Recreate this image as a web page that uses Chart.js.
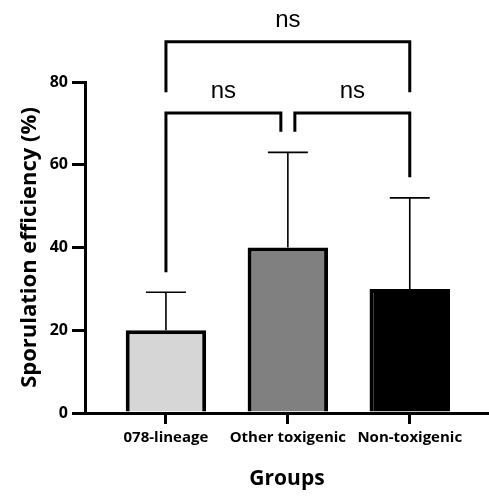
<html>

<head>
    <title>Sporulation efficiency</title>
    <style>
        html,
        body {
            margin: 0;
            padding: 0;
            background: #fff;
        }
    </style>
</head>

<body>
    <div style="width:489px; height:496px;">
        <canvas id='chart' width="489" height="496"></canvas>
    </div>

    <script src="https://cdn.jsdelivr.net/npm/chart.js@4.4.1/dist/chart.umd.min.js"></script>
    <script>
        // data
        const groups = ['078-lineage', 'Other toxigenic', 'Non-toxigenic']
        const means = [20, 40, 30]
        const errUp = [9.2, 23, 22]
        const yTicks = [0, 20, 40, 60, 80]

        // significance brackets: pair of groups, label, bar level, leg end levels
        const comparisons = [[0, 1], [1, 2], [0, 2]]
        const compLabels = ['ns', 'ns', 'ns']
        const bracketLevel = [72.5, 72.5, 89.7]
        const legEnds = [[34, 68], [68, 57], [77.5, 77.5]]

        const fills = ['#d6d6d6', '#808080', '#000000']
        const labelFont = 'Open Sans'

        const extras = {
            id: 'extras',
            afterDatasetsDraw(c) {
                const ctx = c.ctx
                const xs = c.scales.x, ys = c.scales.y
                ctx.save()
                ctx.strokeStyle = '#000'
                // upper error bars
                ctx.lineWidth = 1.6
                means.forEach((m, i) => {
                    const x = xs.getPixelForValue(i + 1)
                    const y0 = ys.getPixelForValue(m)
                    const y1 = ys.getPixelForValue(m + errUp[i])
                    ctx.beginPath()
                    ctx.moveTo(x, y0)
                    ctx.lineTo(x, y1)
                    ctx.moveTo(x - 20, y1)
                    ctx.lineTo(x + 20, y1)
                    ctx.stroke()
                })
                // brackets
                ctx.lineWidth = 3
                ctx.lineCap = 'butt'
                ctx.lineJoin = 'miter'
                ctx.fillStyle = '#000'
                ctx.font = '24px "Liberation Sans"'
                ctx.textAlign = 'center'
                ctx.textBaseline = 'alphabetic'
                comparisons.forEach((p, k) => {
                    let xa = xs.getPixelForValue(p[0] + 1)
                    let xb = xs.getPixelForValue(p[1] + 1)
                    // neighbouring brackets at the same level leave a small gap
                    comparisons.forEach((q, j) => {
                        if (j === k || bracketLevel[j] !== bracketLevel[k]) return
                        if (q[1] === p[0]) xa += 7
                        if (q[0] === p[1]) xb -= 7
                    })
                    const yb = ys.getPixelForValue(bracketLevel[k])
                    ctx.beginPath()
                    ctx.moveTo(xa, ys.getPixelForValue(legEnds[k][0]))
                    ctx.lineTo(xa, yb)
                    ctx.lineTo(xb, yb)
                    ctx.lineTo(xb, ys.getPixelForValue(legEnds[k][1]))
                    ctx.stroke()
                    ctx.fillText(compLabels[k], (xa + xb) / 2, yb - 15)
                })
                ctx.restore()
            }
        }

        var my_bar_chart = new Chart(chart.getContext('2d'), {
            type: 'bar',
            data: {
                datasets: [{
                    data: means.map((v, i) => ({ x: i + 1, y: v })),
                    backgroundColor: fills,
                    borderColor: '#000',
                    borderWidth: 4,
                    borderSkipped: 'start',
                    categoryPercentage: 1,
                    barPercentage: 0.66,
                    clip: false,
                }]
            },
            options: {
                maintainAspectRatio: false,
                responsive: false,
                animation: false,
                layout: { padding: { top: 82, right: 0, left: 0, bottom: 0 } },
                plugins: {
                    legend: { display: false },
                    tooltip: { enabled: false },
                },
                scales: {
                    x: {
                        type: 'linear',
                        offset: false,
                        min: 0.336,
                        max: 3.65,
                        afterBuildTicks: s => { s.ticks = groups.map((g, i) => ({ value: i + 1 })) },
                        afterFit: s => { s.height = 83 },
                        border: { color: '#000', width: 3 },
                        grid: { offset: false, drawOnChartArea: false, color: '#000', lineWidth: 3, tickLength: 11 },
                        ticks: {
                            autoSkip: false,
                            maxRotation: 0,
                            padding: 5,
                            color: '#000',
                            font: { family: labelFont, weight: 'bold', size: 15 },
                            callback: v => groups[v - 1],
                        },
                        title: {
                            display: true,
                            text: 'Groups',
                            color: '#000',
                            padding: { top: 4, bottom: 4 },
                            font: { family: labelFont, weight: 'bold', size: 21 },
                        },
                    },
                    y: {
                        min: 0,
                        max: 80,
                        afterBuildTicks: s => { s.ticks = yTicks.map(v => ({ value: v })) },
                        afterFit: s => { s.width = 85 },
                        border: { color: '#000', width: 3 },
                        grid: { drawOnChartArea: false, color: '#000', lineWidth: 3, tickLength: 13 },
                        ticks: {
                            padding: 4,
                            color: '#000',
                            font: { family: labelFont, weight: 'bold', size: 16 },
                        },
                        title: {
                            display: true,
                            text: 'Sporulation efficiency (%)',
                            color: '#000',
                            padding: { top: 17, bottom: 17 },
                            font: { family: labelFont, weight: 'bold', size: 22 },
                        },
                    },
                },
            },
            plugins: [extras],
        });
    </script>
</body>

</html>
